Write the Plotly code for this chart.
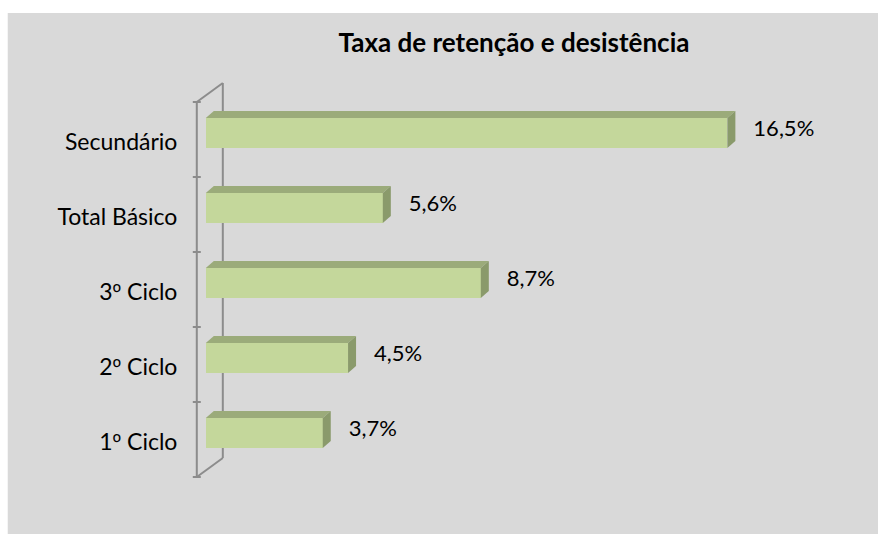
import plotly.graph_objects as go

categories = ["1º Ciclo", "2º Ciclo", "3º Ciclo", "Total Básico", "Secundário"]
values = [3.7, 4.5, 8.7, 5.6, 16.5]
value_labels = ["3,7%", "4,5%", "8,7%", "5,6%", "16,5%"]
title = "Taxa de retenção e desistência"

FONT = "Lato"
FRONT = "#c4d79b"
TOP = "#9bab7a"
SIDE = "#8a9a6b"
WALL = "#8c8c8c"
BG = "#d9d9d9"

W_PX, H_PX = 878, 534
# plot area in page pixels
PL, PR, PT, PB = 190.2, 838.0, 75.0, 484.0
L, R = PL, W_PX - PR
T, B = PT, H_PX - PB
X0_PX, X_SCALE = 206.0, 31.6          # px of x=0, px per unit
Y0_PX, Y_SCALE = 433.0, 75.0          # px of category 0, px per category

def xd(px):
    return (px - X0_PX) / X_SCALE

def yd(py):
    return (Y0_PX - py) / Y_SCALE

plot_w = PR - PL
plot_h = PB - PT

def xp(px):
    return (px - PL) / plot_w

def yp(py):
    return (PB - py) / plot_h

def fmt_cat(s):
    return s.replace("º", '<span style="font-family:Noto Sans">º</span>')

ypos = list(range(len(categories)))
half = 0.2                       # half bar thickness (30 px)
dx = 8 / X_SCALE                 # depth offset in x units
dy = 7 / Y_SCALE                 # depth offset in y units

fig = go.Figure()

fig.add_trace(go.Bar(
    x=values, y=ypos, orientation="h", width=2 * half,
    marker=dict(color=FRONT, line=dict(width=0)),
    hoverinfo="skip", showlegend=False,
))

for v, y in zip(values, ypos):
    yt, yb = y + half, y - half
    fig.add_trace(go.Scatter(
        x=[0, v, v + dx, dx, 0], y=[yt, yt, yt + dy, yt + dy, yt],
        fill="toself", fillcolor=TOP, mode="lines", line=dict(width=0),
        hoverinfo="skip", showlegend=False,
    ))
    fig.add_trace(go.Scatter(
        x=[v, v, v + dx, v + dx, v], y=[yb, yt, yt + dy, yb + dy, yb],
        fill="toself", fillcolor=SIDE, mode="lines", line=dict(width=0),
        hoverinfo="skip", showlegend=False,
    ))

fig.add_trace(go.Scatter(
    x=[v + dx + 18 / X_SCALE for v in values], y=[y + 0.04 for y in ypos],
    mode="text", text=value_labels, textposition="middle right",
    textfont=dict(family=FONT, size=22, color="#000000"),
    hoverinfo="skip", showlegend=False,
))

shapes = []
# white strips along the top and left page edges
shapes.append(dict(type="rect", xref="paper", yref="paper",
                   x0=xp(0), x1=xp(W_PX), y0=yp(13), y1=yp(0),
                   fillcolor="white", line=dict(width=0), layer="below"))
shapes.append(dict(type="rect", xref="paper", yref="paper",
                   x0=xp(0), x1=xp(8), y0=yp(H_PX), y1=yp(0),
                   fillcolor="white", line=dict(width=0), layer="below"))

fx, bx = xd(197), xd(223)
ftop, fbot = yd(102), yd(477)
btop, bbot = yd(83), yd(458)
for (x0, y0, x1, y1) in [(fx, ftop, fx, fbot), (bx, btop, bx, bbot),
                         (fx, ftop, bx, btop), (fx, fbot, bx, bbot)]:
    shapes.append(dict(type="line", xref="x", yref="y", x0=x0, y0=y0, x1=x1, y1=y1,
                       line=dict(color=WALL, width=2), layer="below"))
for k in range(len(categories) + 1):
    yk = fbot + k
    shapes.append(dict(type="line", xref="x", yref="y", x0=xd(193), x1=xd(201),
                       y0=yk, y1=yk, line=dict(color=WALL, width=2), layer="below"))

fig.update_layout(
    width=W_PX, height=H_PX,
    margin=dict(l=L, r=R, t=T, b=B, pad=0),
    paper_bgcolor=BG, plot_bgcolor="rgba(0,0,0,0)",
    shapes=shapes,
    hovermode=False,
    title=dict(text="<b>" + title + "</b>", x=0.5, xref="paper", xanchor="center",
               y=1 - 43 / H_PX, yanchor="middle", yref="container",
               font=dict(family=FONT, size=26, color="#000000")),
    xaxis=dict(range=[-0.5, 20], showgrid=False, zeroline=False,
               showticklabels=False, showline=False, fixedrange=True),
    yaxis=dict(range=[yd(PB), yd(PT)], showgrid=False, zeroline=False,
               showline=False, tickmode="array",
               tickvals=[y - 0.113 for y in ypos],
               ticktext=[fmt_cat(c) for c in categories],
               ticks="outside", ticklen=7, tickcolor="rgba(0,0,0,0)",
               tickfont=dict(family=FONT, size=23, color="#000000"),
               fixedrange=True),
    bargap=0,
)

fig.write_html(
    "out.html",
    config={"displayModeBar": False, "staticPlot": True},
    post_script="document.body.style.margin='0';document.body.style.overflow='hidden';",
)
